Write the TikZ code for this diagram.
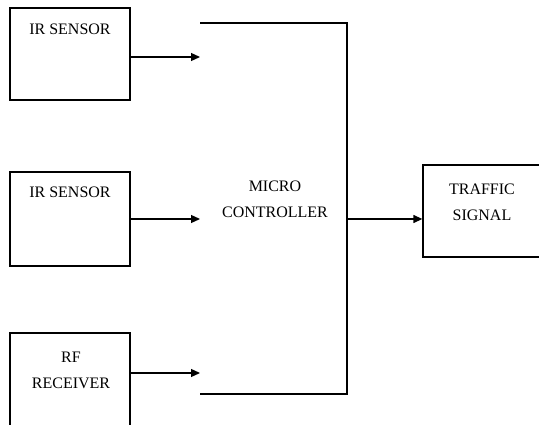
\documentclass[tikz,border=0pt]{standalone}
\usepackage{fontspec}
\setmainfont{Liberation Serif}
\usetikzlibrary{arrows.meta}
\begin{document}
\begin{tikzpicture}[x=1pt,y=-1pt,
  box/.style={draw, line width=1.3pt, rectangle, inner sep=0pt},
  txt/.style={font=\fontsize{16}{26}\selectfont, align=center, inner sep=0pt},
  wire/.style={line width=1.3pt},
  arr/.style={line width=1.3pt, -{Triangle[length=9pt,width=8pt]}}]
\useasboundingbox (0,0) rectangle (539,425);
\clip (0,0) rectangle (539,425);
% input boxes
\node[box, minimum width=120pt, minimum height=92pt] (s1) at (70,54) {};
\node[txt] (s1t) at (70,29) {IR SENSOR};
\node[box, minimum width=120pt, minimum height=94pt] (s2) at (70,219) {};
\node[txt] (s2t) at (70,192) {IR SENSOR};
\node[box, minimum width=120pt, minimum height=110pt] (s3) at (70,388) {};
\node[txt] (s3t) at (71,370) {RF\\RECEIVER};
% micro controller
\coordinate (mtl) at (200,23);
\coordinate (mtr) at (347,23);
\coordinate (mbr) at (347,394);
\coordinate (mbl) at (200,394);
\draw[wire] (mtl) -- (mtr) -- (mbr) -- (mbl);
\node[txt] (mc) at (275,199) {MICRO\\CONTROLLER};
% arrows into micro
\coordinate (a1) at (200,57);
\coordinate (a2) at (200,219);
\coordinate (a3) at (200,373);
\draw[arr] (s1.east |- a1) -- (a1);
\draw[arr] (s2.east |- a2) -- (a2);
\draw[arr] (s3.east |- a3) -- (a3);
% traffic signal
\node[box, minimum width=140pt, minimum height=92pt] (ts) at (493,211) {};
\node[txt] (tst) at (482,202) {TRAFFIC\\SIGNAL};
\coordinate (mo) at (347,219);
\draw[arr] (mo) -- (ts.west |- mo);
\end{tikzpicture}
\end{document}
